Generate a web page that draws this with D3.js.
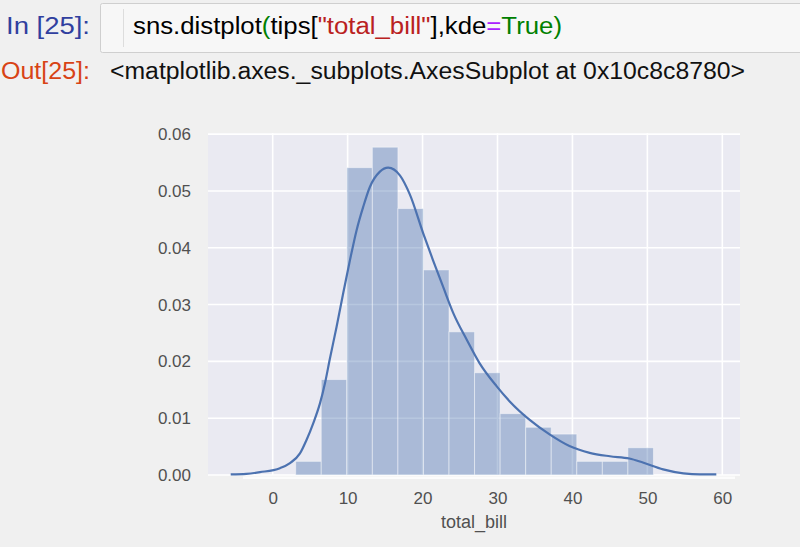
<!DOCTYPE html>
<html>
<head>
<meta charset="utf-8">
<script src="https://cdn.jsdelivr.net/npm/d3@7"></script>
<style>
  html, body { margin: 0; padding: 0; background: #f0f0f0; }
  svg { display: block; }
</style>
</head>
<body>
<svg id="chart" width="800" height="547"></svg>
<script>
// ---- data ----
const binEdges = [3.07, 6.48, 9.89, 13.30, 16.71, 20.12, 23.53, 26.94, 30.35, 33.76, 37.17, 40.58, 43.99, 47.40, 50.81];
const binDensity = [0.0024, 0.0168, 0.0541, 0.0577, 0.0469, 0.0361, 0.0252, 0.0180, 0.0108, 0.0084, 0.0072, 0.0024, 0.0024, 0.0048];
const kdeX = [-5.6, -3.5, -1.7, 0.97, 2.31, 3.64, 4.53, 5.41, 6.31, 6.97, 7.64, 8.53, 9.41, 10.31, 11.2, 12.08, 12.97, 14.31, 15.41, 17.0, 18.3, 20.1, 21.4, 22.75, 24.1, 25.9, 27.6, 29.9, 31.6, 34.3, 37.0, 39.6, 42.3, 45.0, 47.6, 49.4, 52.1, 54.8, 57.0, 59.2];
const kdeY = [0.0001, 0.0002, 0.0005, 0.0012, 0.0021, 0.0038, 0.0062, 0.0091, 0.0126, 0.0161, 0.0205, 0.0261, 0.0320, 0.0378, 0.0431, 0.0472, 0.0507, 0.0534, 0.0541, 0.0527, 0.0494, 0.0425, 0.0378, 0.0331, 0.0285, 0.0238, 0.0197, 0.0156, 0.0130, 0.0097, 0.0071, 0.0051, 0.0039, 0.0033, 0.0029, 0.0022, 0.0010, 0.0003, 0.0001, 0.0001];
const xTicks = [0, 10, 20, 30, 40, 50, 60];
const yTicks = [0.00, 0.01, 0.02, 0.03, 0.04, 0.05, 0.06];
const xLabel = "total_bill";
const inPrompt = "In [25]:";
const outPrompt = "Out[25]:";
const outText = "<matplotlib.axes._subplots.AxesSubplot at 0x10c8c8780>";
const codeParts = [
  ["sns.distplot", "#000000"], ["(", "#008000"], ["tips[", "#000000"],
  ["\"total_bill\"", "#BA2121"], ["],kde", "#000000"], ["=", "#AA22FF"],
  ["True", "#008000"], [")", "#008000"]
];

const svg = d3.select("#chart");
const FONT = "'Liberation Sans', Arial, Helvetica, sans-serif";

// ---- notebook chrome ----
svg.append("rect").attr("x", 0).attr("y", 0).attr("width", 800).attr("height", 547).attr("fill", "#f0f0f0");
svg.append("rect").attr("x", 100.5).attr("y", 3.5).attr("width", 720).attr("height", 49)
  .attr("rx", 2).attr("fill", "#f7f7f7").attr("stroke", "#cfcfcf");
svg.append("line").attr("x1", 123.5).attr("x2", 123.5).attr("y1", 9).attr("y2", 47)
  .attr("stroke", "#dddddd");

svg.append("text").attr("x", 6).attr("y", 34)
  .attr("textLength", 84).attr("lengthAdjust", "spacingAndGlyphs")
  .attr("font-family", FONT).attr("font-size", 23).attr("fill", "#303F9F").text(inPrompt);
svg.append("text").attr("x", 1).attr("y", 79)
  .attr("textLength", 89).attr("lengthAdjust", "spacingAndGlyphs")
  .attr("font-family", FONT).attr("font-size", 23).attr("fill", "#D84315").text(outPrompt);

const codeText = svg.append("text").attr("x", 133).attr("y", 34)
  .attr("textLength", 429).attr("lengthAdjust", "spacingAndGlyphs")
  .attr("font-family", FONT).attr("font-size", 23);
codeParts.forEach(([t, c]) => codeText.append("tspan").attr("fill", c).text(t));

svg.append("text").attr("x", 110).attr("y", 79)
  .attr("textLength", 635).attr("lengthAdjust", "spacingAndGlyphs")
  .attr("font-family", FONT).attr("font-size", 23).attr("fill", "#111").text(outText);

// ---- chart ----
const L = 208, R = 740, T = 133, B = 475;
const x = d3.scaleLinear().domain([-8.63, 62.36]).range([L, R]);
const y = d3.scaleLinear().domain([0, 0.0602]).range([B, T]);

svg.append("rect").attr("x", L).attr("y", T).attr("width", R - L).attr("height", B - T).attr("fill", "#EAEAF2");

const g = svg.append("g");
g.selectAll("line.gy").data(yTicks).join("line").attr("class", "gy")
  .attr("x1", L).attr("x2", R).attr("y1", d => y(d)).attr("y2", d => y(d))
  .attr("stroke", "#fff").attr("stroke-width", 1.6);
g.selectAll("line.gx").data(xTicks).join("line").attr("class", "gx")
  .attr("x1", d => x(d)).attr("x2", d => x(d)).attr("y1", T).attr("y2", B)
  .attr("stroke", "#fff").attr("stroke-width", 1.6);

// histogram bars
const bars = binDensity.map((d, i) => ({ x0: binEdges[i], x1: binEdges[i + 1], d }));
g.selectAll("rect.bar").data(bars).join("rect").attr("class", "bar")
  .attr("x", d => x(d.x0)).attr("width", d => x(d.x1) - x(d.x0))
  .attr("y", d => y(d.d)).attr("height", d => y(0) - y(d.d))
  .attr("fill", "#4C72B0").attr("fill-opacity", 0.4)
  .attr("stroke", "#ffffff").attr("stroke-opacity", 0.45).attr("stroke-width", 1);

// kde line
const kde = kdeX.map((v, i) => [v, kdeY[i]]);
g.append("path").datum(kde)
  .attr("d", d3.line().x(d => x(d[0])).y(d => y(d[1])).curve(d3.curveMonotoneX))
  .attr("fill", "none").attr("stroke", "#4C72B0").attr("stroke-width", 2.2);

// faint white strip under the axes
svg.append("rect").attr("x", 243).attr("y", 476.5).attr("width", 492).attr("height", 2.5).attr("fill", "#ffffff").attr("opacity", 0.8);

// axes (no spines)
const xAxis = svg.append("g").attr("transform", `translate(0,${B})`)
  .call(d3.axisBottom(x).tickValues(xTicks).tickFormat(d3.format("d")).tickSize(0).tickPadding(17));
const yAxis = svg.append("g").attr("transform", `translate(${L},0)`)
  .call(d3.axisLeft(y).tickValues(yTicks).tickFormat(d3.format(".2f")).tickSize(0).tickPadding(17));
[xAxis, yAxis].forEach(a => {
  a.select(".domain").remove();
  a.selectAll("text").attr("font-family", FONT).attr("font-size", 17).attr("fill", "#505050");
});

svg.append("text").attr("x", (L + R) / 2).attr("y", 528).attr("text-anchor", "middle")
  .attr("font-family", FONT).attr("font-size", 18).attr("fill", "#505050").text(xLabel);
</script>
</body>
</html>
